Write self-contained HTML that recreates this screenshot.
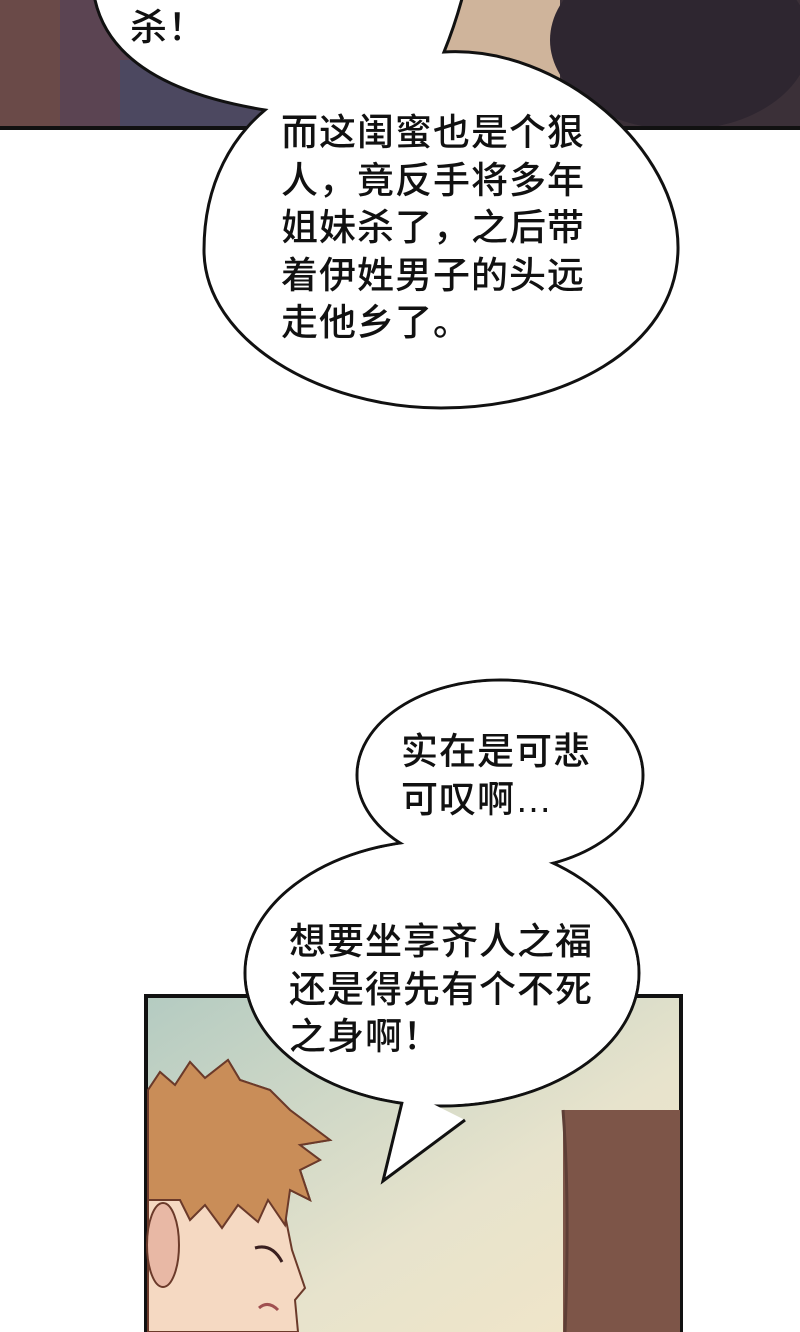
<!DOCTYPE html>
<html><head><meta charset="utf-8"><style>
body{margin:0;width:800px;height:1332px;overflow:hidden;background:#fff;position:relative;font-family:"Liberation Sans","Noto Sans CJK SC",sans-serif}
svg{position:absolute;left:0;top:0}
.t{position:absolute;font-size:37px;line-height:47.5px;color:#111;font-weight:500;white-space:pre;letter-spacing:1px}
</style></head><body>
<svg width="800" height="1332" viewBox="0 0 800 1332">
<defs>
<linearGradient id="bg" x1="0" y1="0" x2="1" y2="1">
<stop offset="0" stop-color="#b4cbc1"/><stop offset="0.6" stop-color="#e7e3cc"/><stop offset="1" stop-color="#f3e6c8"/></linearGradient>
</defs>
<!-- top panel -->
<rect x="0" y="0" width="800" height="128" fill="#5b4452"/>
<rect x="0" y="0" width="60" height="128" fill="#6a4a48"/>
<rect x="120" y="60" width="150" height="68" fill="#4c4860"/>
<rect x="440" y="0" width="200" height="128" fill="#cfb49b"/>
<rect x="560" y="0" width="240" height="128" fill="#3b3038"/>
<ellipse cx="680" cy="40" rx="130" ry="90" fill="#2e2630"/>
<rect x="0" y="126" width="800" height="4" fill="#111"/>
<!-- combined top bubbles -->
<path d="M94,-5 Q110,85 265,110 C235,135 204,180 204,250 C204,340 320,408 441,408 C560,408 676,350 678,250 C680,150 560,45 444,52 Q455,25 463,-5 Z" fill="#fff" stroke="#111" stroke-width="3"/>
<!-- bottom panel -->
<rect x="146" y="996" width="535" height="340" fill="url(#bg)" stroke="#111" stroke-width="4"/>
<rect x="563" y="1110" width="117" height="224" fill="#7d5548"/>
<path d="M563,1110 Q570,1200 565,1332" stroke="#5e3e36" stroke-width="3" fill="none"/>
<!-- boy -->
<path d="M148,1332 L148,1090 L160,1072 L175,1085 L190,1062 L205,1078 L228,1060 L240,1080 L270,1090 L290,1110 L330,1140 L300,1145 L320,1160 L300,1170 L310,1200 L290,1190 L285,1215 L292,1250 L305,1288 L295,1300 L298,1332 Z" fill="#f5d9c2" stroke="#6b3a2a" stroke-width="2"/>
<path d="M148,1200 L148,1090 L160,1072 L175,1085 L190,1062 L205,1078 L228,1060 L240,1080 L270,1090 L290,1110 L330,1140 L300,1145 L320,1160 L300,1170 L310,1200 L290,1190 L285,1225 L268,1200 L258,1222 L238,1205 L222,1228 L205,1205 L190,1220 L180,1200 Z" fill="#c98d58" stroke="#6b3a2a" stroke-width="2"/>
<ellipse cx="163" cy="1245" rx="16" ry="42" fill="#e8b8a5" stroke="#6b3a2a" stroke-width="2"/>
<path d="M255,1248 Q272,1243 282,1262" stroke="#3a2020" stroke-width="3" fill="none"/>
<path d="M259,1308 Q268,1300 278,1310" stroke="#a05050" stroke-width="3" fill="none"/>
<!-- bottom bubbles (union) -->
<g stroke="#111" stroke-width="3" fill="#fff">
<ellipse cx="500" cy="775" rx="143" ry="95"/>
<ellipse cx="442" cy="973" rx="197" ry="133"/>
<path d="M405,1090 L383,1181 L465,1120"/>
</g>
<g fill="#fff">
<ellipse cx="500" cy="775" rx="141.5" ry="93.5"/>
<ellipse cx="442" cy="973" rx="195.5" ry="131.5"/>
</g>
<text x="40" y="1310" font-size="34" fill="#fff" fill-opacity="0.55" font-family="Noto Sans CJK SC,sans-serif">看漫</text>
</svg>
<div class="t" style="left:130px;top:4px">杀！</div>
<div class="t" style="left:281px;top:109px">而这闺蜜也是个狠
人，竟反手将多年
姐妹杀了，之后带
着伊姓男子的头远
走他乡了。</div>
<div class="t" style="left:401px;top:728px">实在是可悲
可叹啊…</div>
<div class="t" style="left:289px;top:918px">想要坐享齐人之福
还是得先有个不死
之身啊！</div>
</body></html>
